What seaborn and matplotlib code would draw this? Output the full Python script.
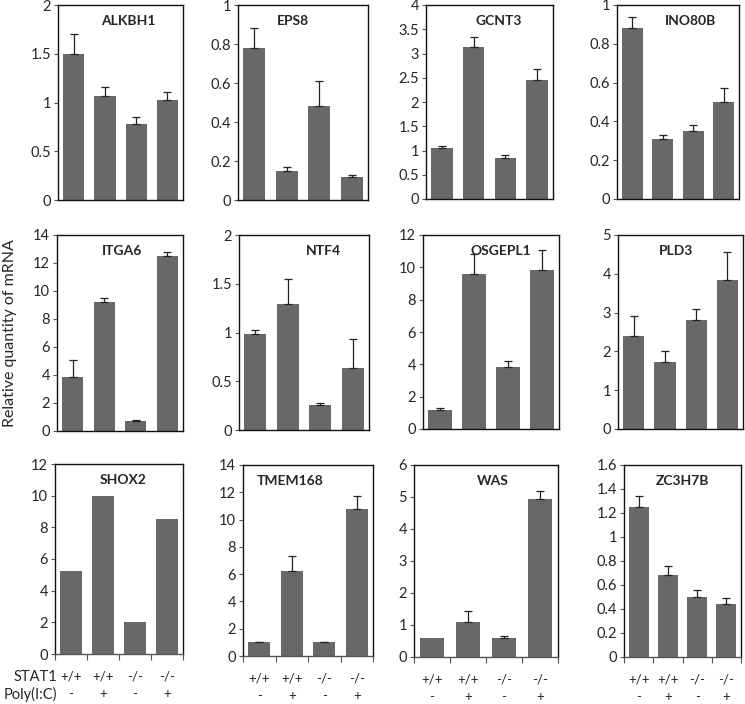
import matplotlib
matplotlib.use("Agg")
import matplotlib.pyplot as plt
import seaborn as sns
import pandas as pd

# conditions (STAT1 genotype / Poly(I:C) treatment)
conditions = ["WT_mock", "WT_pIC", "KO_mock", "KO_pIC"]
stat1_labels = ["+/+", "+/+", "-/-", "-/-"]
pic_labels = ["-", "+", "-", "+"]

genes = ["ALKBH1", "EPS8", "GCNT3", "INO80B",
         "ITGA6", "NTF4", "OSGEPL1", "PLD3",
         "SHOX2", "TMEM168", "WAS", "ZC3H7B"]

# mean relative mRNA and upper error per gene
alkbh1 = [1.50, 1.07, 0.78, 1.03]
alkbh1_err = [0.20, 0.09, 0.07, 0.08]
eps8 = [0.78, 0.15, 0.48, 0.12]
eps8_err = [0.10, 0.02, 0.13, 0.01]
gcnt3 = [1.05, 3.13, 0.85, 2.45]
gcnt3_err = [0.04, 0.22, 0.05, 0.23]
ino80b = [0.88, 0.31, 0.35, 0.50]
ino80b_err = [0.06, 0.02, 0.03, 0.07]
itga6 = [3.85, 9.25, 0.75, 12.5]
itga6_err = [1.25, 0.25, 0.07, 0.25]
ntf4 = [0.98, 1.29, 0.26, 0.64]
ntf4_err = [0.05, 0.26, 0.02, 0.29]
osgepl1 = [1.2, 9.6, 3.85, 9.85]
osgepl1_err = [0.1, 1.2, 0.35, 1.2]
pld3 = [2.4, 1.72, 2.8, 3.85]
pld3_err = [0.5, 0.28, 0.3, 0.72]
shox2 = [5.25, 10.0, 2.0, 8.5]
shox2_err = [0, 0, 0, 0]
tmem168 = [1.0, 6.25, 1.0, 10.75]
tmem168_err = [0.05, 1.05, 0.05, 0.95]
was = [0.6, 1.1, 0.6, 4.95]
was_err = [0, 0.35, 0.05, 0.25]
zc3h7b = [1.25, 0.68, 0.50, 0.44]
zc3h7b_err = [0.09, 0.08, 0.06, 0.05]

means = [alkbh1, eps8, gcnt3, ino80b, itga6, ntf4, osgepl1, pld3,
         shox2, tmem168, was, zc3h7b]
errors = [alkbh1_err, eps8_err, gcnt3_err, ino80b_err, itga6_err, ntf4_err,
          osgepl1_err, pld3_err, shox2_err, tmem168_err, was_err, zc3h7b_err]

# y axis maximum and tick step per gene
y_max = [2, 1, 4, 1, 14, 2, 12, 5, 12, 14, 6, 1.6]
y_step = [0.5, 0.2, 0.5, 0.2, 2, 0.5, 2, 1, 2, 2, 1, 0.2]

rows = []
for g, m, e in zip(genes, means, errors):
    for k, (c, v, ev) in enumerate(zip(conditions, m, e)):
        rows.append({"gene": g, "condition": c, "pos": k, "value": v, "err": ev})
df = pd.DataFrame(rows)

sns.set_style("white")
plt.rcParams["font.family"] = ["Lato", "DejaVu Sans"]

W, H = 745, 704
fig = plt.figure(figsize=(W / 100, H / 100), dpi=100)

# panel boxes in pixels: (left, right, top, bottom)
boxes = [(58, 183, 5, 200), (238, 368, 5, 200), (426, 553, 5, 199), (617, 739, 5, 199),
         (57, 183, 235, 431), (239, 369, 235, 430), (423, 559, 235, 429), (618, 743, 235, 429),
         (55, 183, 464, 654), (243, 373, 465, 656), (414, 558, 465, 657), (624, 741, 465, 657)]
title_x = [0.56, 0.42, 0.57, 0.6, 0.52, 0.65, 0.57, 0.46, 0.53, 0.36, 0.55, 0.5]

bar_color = "#686868"

for i, gene in enumerate(genes):
    l, r, t, b = boxes[i]
    ax = fig.add_axes([l / W, 1 - b / H, (r - l) / W, (b - t) / H])
    sub = df[df["gene"] == gene]
    sns.barplot(data=sub, x="condition", y="value", order=conditions,
                color=bar_color, width=0.68, errorbar=None, saturation=1,
                edgecolor="none", ax=ax)
    has_err = sub[sub["err"] > 0]
    if len(has_err):
        ax.errorbar(has_err["pos"], has_err["value"],
                    yerr=[[0] * len(has_err), has_err["err"]], fmt="none",
                    ecolor="#222222", elinewidth=0.9, capsize=3, capthick=0.9)
    ax.set_xlim(-0.5, 3.5)
    ax.set_ylim(0, y_max[i])
    ticks = [round(k * y_step[i], 2) for k in range(int(round(y_max[i] / y_step[i])) + 1)]
    ax.set_yticks(ticks)
    ax.set_yticklabels(["{:g}".format(v) for v in ticks], fontsize=10.5)
    ax.tick_params(axis="y", direction="out", length=3, width=0.8, color="#555555",
                   pad=2, left=True)
    ax.set_xlabel("")
    ax.set_ylabel("")
    for s in ax.spines.values():
        s.set_visible(True)
        s.set_color("#111111")
        s.set_linewidth(1)
    ax.text(title_x[i], 0.95, gene, transform=ax.transAxes, ha="center", va="top",
            fontsize=10, fontweight="bold")
    if i >= 8:
        ax.set_xticks(range(4))
        ax.set_xticklabels([f"{a}\n{p}" for a, p in zip(stat1_labels, pic_labels)],
                           fontsize=9.5, linespacing=1.5)
        ax.tick_params(axis="x", which="major", length=0, pad=12)
        ax.set_xticks([-0.5, 0.5, 1.5, 2.5, 3.5], minor=True)
        ax.tick_params(axis="x", which="minor", direction="out", length=4,
                       width=0.8, color="#555555", bottom=True)
        ax.spines["bottom"].set_color("#555555")
    else:
        ax.set_xticks([])

# row labels for the x categories, to the left of the bottom-left panel
fig.text(57 / W, 1 - 677 / H, "STAT1", ha="right", va="center", fontsize=10.5)
fig.text(57 / W, 1 - 694 / H, "Poly(I:C)", ha="right", va="center", fontsize=10.5)

fig.text(10 / W, 1 - 333 / H, "Relative quantity of mRNA", rotation=90,
         ha="center", va="center", fontsize=11.5)

fig.savefig("out.png", dpi=100)
